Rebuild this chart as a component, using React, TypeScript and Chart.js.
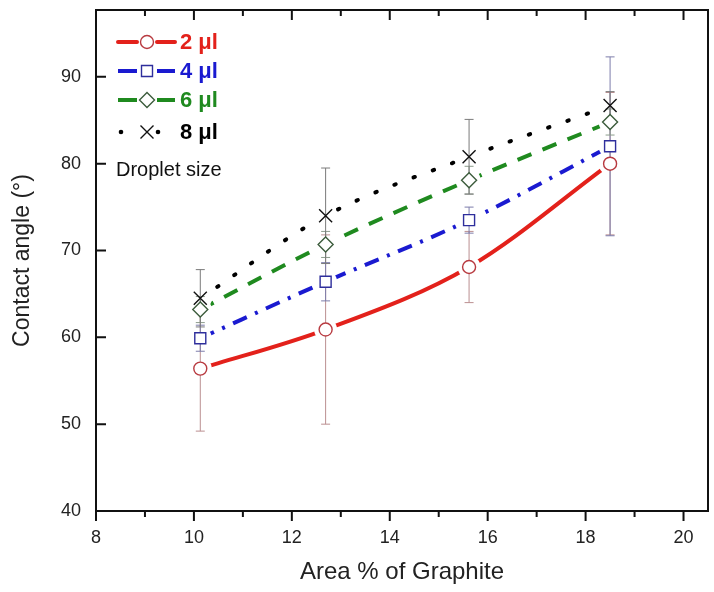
import { useEffect, useRef } from 'react'
import { Chart, registerables } from 'chart.js'

Chart.register(...registerables)

// data
const areaPct = [10.13, 12.69, 15.62, 18.5]
const angle2 = [56.4, 60.9, 68.1, 80.0]
const err2 = [7.2, 10.9, 4.1, 8.2]
const angle4 = [59.9, 66.4, 73.5, 82.0]
const err4 = [1.5, 2.2, 1.5, 10.3]
const angle6 = [63.2, 70.7, 78.1, 84.8]
const err6 = [1.5, 1.5, 1.6, 1.5]
const angle8 = [64.5, 74.0, 80.8, 86.7]
const err8 = [3.3, 5.5, 4.3, 1.6]
const labels = ['2 μl', '4 μl', '6 μl', '8 μl']

const FONT = '"Liberation Sans", Arial, sans-serif'

type SeriesStyle = {
  line: string
  marker: string
  bar: string
  shape: 'circle' | 'square' | 'diamond' | 'cross'
  dash: number[]
  cap: CanvasLineCap
}

const styles: SeriesStyle[] = [
  { line: '#e3211b', marker: '#b83a40', bar: '#bb8f90', shape: 'circle', dash: [], cap: 'round' },
  { line: '#1a1ad0', marker: '#2e2e9c', bar: '#7d7dab', shape: 'square', dash: [15, 9, 3, 9], cap: 'butt' },
  { line: '#1f8a1f', marker: '#3c5c3c', bar: '#8c9c8c', shape: 'diamond', dash: [15, 12], cap: 'butt' },
  { line: '#000000', marker: '#111111', bar: '#7a7a7a', shape: 'cross', dash: [1.5, 19], cap: 'round' },
]

function drawMarker(ctx: CanvasRenderingContext2D, shape: string, x: number, y: number, color: string) {
  ctx.save()
  ctx.strokeStyle = color
  ctx.fillStyle = '#fff'
  ctx.lineWidth = 1.4
  ctx.setLineDash([])
  ctx.beginPath()
  if (shape === 'circle') {
    ctx.arc(x, y, 6.5, 0, Math.PI * 2)
    ctx.fill()
    ctx.stroke()
  } else if (shape === 'square') {
    ctx.rect(x - 5.5, y - 5.5, 11, 11)
    ctx.fill()
    ctx.stroke()
  } else if (shape === 'diamond') {
    ctx.moveTo(x, y - 7.5)
    ctx.lineTo(x + 7.5, y)
    ctx.lineTo(x, y + 7.5)
    ctx.lineTo(x - 7.5, y)
    ctx.closePath()
    ctx.fill()
    ctx.stroke()
  } else {
    ctx.moveTo(x - 6.5, y - 6.5)
    ctx.lineTo(x + 6.5, y + 6.5)
    ctx.moveTo(x + 6.5, y - 6.5)
    ctx.lineTo(x - 6.5, y + 6.5)
    ctx.stroke()
  }
  ctx.restore()
}

export default function App() {
  const canvasRef = useRef<HTMLCanvasElement | null>(null)

  useEffect(() => {
    if (!canvasRef.current) return
    const ctx = canvasRef.current.getContext('2d')
    if (!ctx) return

    const values = [angle2, angle4, angle6, angle8]
    const errors = [err2, err4, err6, err8]

    const markersPlugin = {
      id: 'markers',
      afterDatasetsDraw(chart: any) {
        const c = chart.ctx as CanvasRenderingContext2D
        const y = chart.scales.y
        const metas = values.map((_, i) => chart.getDatasetMeta(i))
        // white gaps round the markers, as in the original
        c.save()
        c.fillStyle = '#fff'
        metas.forEach((m: any) => m.data.forEach((p: any) => {
          c.beginPath()
          c.arc(p.x, p.y, 11.5, 0, Math.PI * 2)
          c.fill()
        }))
        c.restore()
        // error bars
        metas.forEach((m: any, i: number) => {
          c.save()
          c.strokeStyle = styles[i].bar
          c.lineWidth = 1
          m.data.forEach((p: any, j: number) => {
            const top = y.getPixelForValue(values[i][j] + errors[i][j])
            const bot = y.getPixelForValue(values[i][j] - errors[i][j])
            c.beginPath()
            c.moveTo(p.x, top); c.lineTo(p.x, bot)
            c.moveTo(p.x - 4.5, top); c.lineTo(p.x + 4.5, top)
            c.moveTo(p.x - 4.5, bot); c.lineTo(p.x + 4.5, bot)
            c.stroke()
          })
          c.restore()
        })
        metas.forEach((m: any, i: number) => m.data.forEach((p: any) => {
          drawMarker(c, styles[i].shape, p.x, p.y, styles[i].marker)
        }))
      },
    }

    const framePlugin = {
      id: 'frame',
      afterDraw(chart: any) {
        const c = chart.ctx as CanvasRenderingContext2D
        const { left, right, top, bottom } = chart.chartArea
        const x = chart.scales.x
        const y = chart.scales.y
        c.save()
        c.strokeStyle = '#111'
        c.lineWidth = 2
        c.strokeRect(left, top, right - left, bottom - top)
        c.beginPath()
        for (let v = 8; v <= 20; v++) {
          const px = x.getPixelForValue(v)
          const len = v % 2 === 0 ? 10 : 6
          c.moveTo(px, bottom); c.lineTo(px, bottom + len)
          c.moveTo(px, top); c.lineTo(px, top + len)
        }
        for (let v = 40; v <= 90; v += 10) {
          const py = y.getPixelForValue(v)
          c.moveTo(left, py); c.lineTo(left + 10, py)
        }
        c.stroke()

        // legend
        const rows = [42, 71, 100, 132]
        rows.forEach((ry, i) => {
          const s = styles[i]
          c.save()
          c.strokeStyle = s.line
          c.lineWidth = 4
          c.lineCap = s.cap
          if (i === 3) {
            c.fillStyle = s.line
            ;[121, 158].forEach((dx) => { c.beginPath(); c.arc(dx, ry, 2.3, 0, Math.PI * 2); c.fill() })
          } else {
            c.beginPath()
            c.moveTo(118, ry); c.lineTo(137, ry)
            c.moveTo(157, ry); c.lineTo(175, ry)
            c.stroke()
          }
          c.restore()
          drawMarker(c, s.shape, 147, ry, s.marker)
          c.fillStyle = i === 3 ? '#000' : s.line
          c.font = `bold 22px ${FONT}`
          c.textBaseline = 'middle'
          c.textAlign = 'left'
          c.fillText(labels[i], 180, ry + 1)
        })
        c.fillStyle = '#111'
        c.font = `20px ${FONT}`
        c.textBaseline = 'middle'
        c.fillText('Droplet size', 116, 170)
        c.restore()
      },
    }

    const chart = new Chart(ctx, {
      type: 'line',
      data: {
        datasets: values.map((vals, i) => ({
          label: labels[i],
          data: areaPct.map((a, j) => ({ x: a, y: vals[j] })),
          borderColor: styles[i].line,
          borderWidth: 4,
          borderDash: styles[i].dash,
          borderCapStyle: styles[i].cap,
          pointRadius: 0,
          fill: false,
          cubicInterpolationMode: 'monotone' as const,
        })),
      },
      options: {
        animation: false,
        responsive: true,
        maintainAspectRatio: false,
        layout: { padding: { top: 10, right: 6, left: 0, bottom: 0 } },
        plugins: { legend: { display: false }, tooltip: { enabled: false } },
        scales: {
          x: {
            type: 'linear',
            min: 8,
            max: 20.5,
            grid: { display: false },
            border: { display: false },
            afterFit: (s: any) => {
              s.height = 81
              s.paddingLeft = 0
              s.paddingRight = 0
            },
            ticks: {
              stepSize: 2,
              includeBounds: false,
              padding: 8,
              color: '#222',
              font: { family: FONT, size: 18 },
            },
            title: {
              display: true,
              text: 'Area % of Graphite',
              color: '#222',
              font: { family: FONT, size: 24 },
              padding: { top: 0, bottom: 5 },
            },
          },
          y: {
            min: 40,
            max: 97.7,
            grid: { display: false },
            border: { display: false },
            afterFit: (s: any) => {
              s.width = 96
              s.paddingTop = 0
              s.paddingBottom = 0
            },
            ticks: {
              stepSize: 10,
              includeBounds: false,
              padding: 7,
              color: '#222',
              font: { family: FONT, size: 18 },
            },
            title: {
              display: true,
              text: 'Contact angle (°)',
              color: '#222',
              font: { family: FONT, size: 23 },
              padding: { top: 9, bottom: 0 },
            },
          },
        },
      },
      plugins: [markersPlugin, framePlugin],
    })

    return () => chart.destroy()
  }, [])

  return (
    <div style={{ position: 'fixed', left: 0, top: 0, width: 714, height: 592, background: '#fff' }}>
      <canvas ref={canvasRef}></canvas>
    </div>
  )
}
